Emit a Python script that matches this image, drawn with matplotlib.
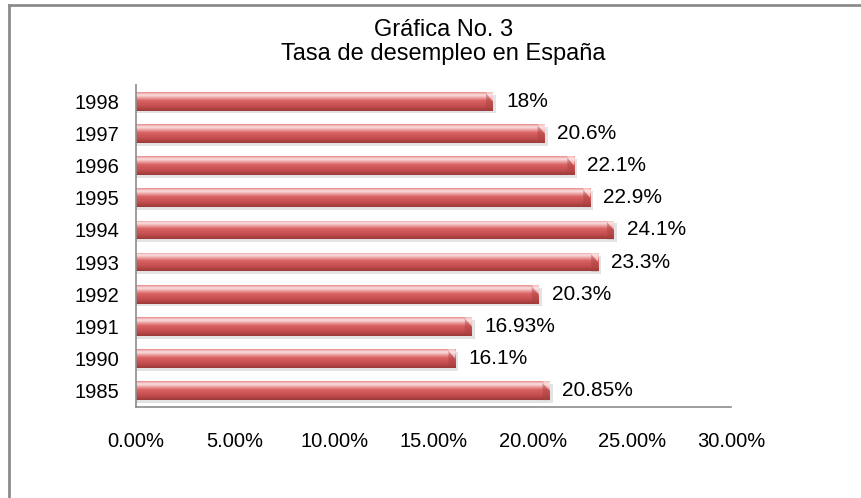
import numpy as np
import matplotlib.pyplot as plt
from matplotlib.colors import LinearSegmentedColormap
from matplotlib.patches import Rectangle

plt.rcParams['font.family'] = ['Liberation Sans', 'DejaVu Sans']

years = ['1985', '1990', '1991', '1992', '1993', '1994', '1995', '1996', '1997', '1998']
rates = [20.85, 16.1, 16.93, 20.3, 23.3, 24.1, 22.9, 22.1, 20.6, 18.0]
labels = ['20.85%', '16.1%', '16.93%', '20.3%', '23.3%', '24.1%', '22.9%', '22.1%', '20.6%', '18%']
xticks = [0, 5, 10, 15, 20, 25, 30]

fig = plt.figure(figsize=(8.61, 4.98), dpi=100)
ax = fig.add_axes([0.158, 0.183, 0.691, 0.646])

# bar shading, bottom -> top
cmap = LinearSegmentedColormap.from_list('bar', [
    (0.0, '#9c3a3a'), (0.25, '#c44e4e'), (0.55, '#d96262'),
    (0.75, '#f2b6b6'), (0.85, '#fbe2e2'), (1.0, '#e88c8c')])
grad = np.linspace(0, 1, 64).reshape(-1, 1)

h = 0.58
for i, v in enumerate(rates):
    # soft shadow below the bar
    ax.add_patch(Rectangle((0, i - h / 2 - 0.09), v + 0.15, h, color='#c8c8c8',
                           alpha=0.5, lw=0, zorder=1))
    rect = Rectangle((0, i - h / 2), v, h, facecolor='none', edgecolor='none', zorder=2)
    ax.add_patch(rect)
    im = ax.imshow(grad, cmap=cmap, aspect='auto', origin='lower',
                   extent=[0, v, i - h / 2, i + h / 2], zorder=2)
    im.set_clip_path(rect)
    # bevel at the bar end
    ax.fill([v - 0.35, v, v], [i + h / 2, i + h / 2, i + h / 2 - 0.3],
            color='#fbe2e2', alpha=0.6, lw=0, zorder=3)
    ax.fill([v - 0.35, v, v, v - 0.35], [i + h / 2 - 0.05, i + h / 2 - 0.3, i - h / 2, i - h / 2],
            color='#a84040', alpha=0.45, lw=0, zorder=3)
    ax.text(v + 0.65, i, labels[i], va='center', ha='left', fontsize=15)

ax.set_xlim(0, 30)
ax.set_ylim(-0.5, 9.5)
ax.set_yticks(range(len(years)))
ax.set_yticklabels(years)
ax.set_xticks(xticks)
ax.set_xticklabels([f'{t:.2f}%' for t in xticks])
ax.tick_params(axis='both', length=0, labelsize=14.5)
ax.tick_params(axis='x', pad=18)
ax.tick_params(axis='y', pad=12)
for s in ['top', 'right']:
    ax.spines[s].set_visible(False)
for s in ['left', 'bottom']:
    ax.spines[s].set_color('#8c8c8c')
    ax.spines[s].set_linewidth(1.2)

fig.text(0.515, 0.915, 'Gráfica No. 3\nTasa de desempleo en España', ha='center',
         va='center', fontsize=17, linespacing=1.1)

# chart frame (only top and left edges visible)
fig.add_artist(plt.Line2D([0.011, 1.0], [0.99, 0.99], color='#8c8c8c', lw=2,
                          transform=fig.transFigure))
fig.add_artist(plt.Line2D([0.011, 0.011], [0.0, 0.99], color='#8c8c8c', lw=2,
                          transform=fig.transFigure))

fig.savefig('out.png', dpi=100)
